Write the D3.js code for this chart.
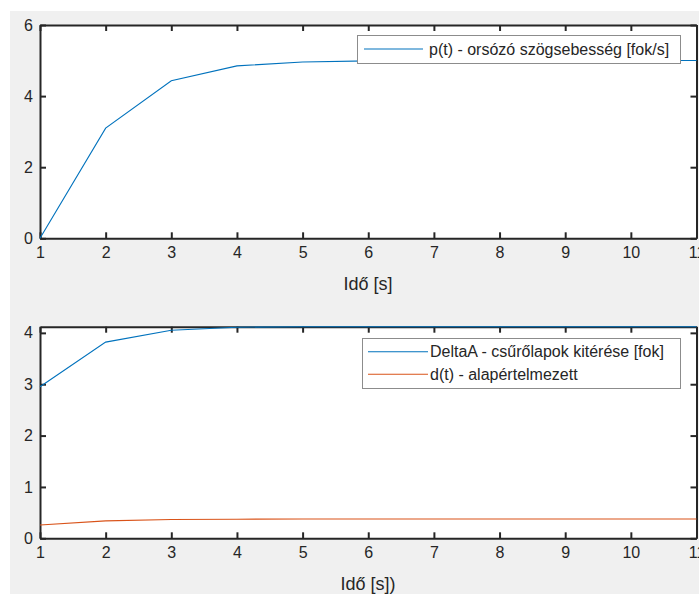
<!DOCTYPE html>
<html>
<head>
<meta charset="utf-8">
<script src="https://cdn.jsdelivr.net/npm/d3@7"></script>
<style>
  html, body { margin: 0; padding: 0; background: #ffffff; }
  svg { display: block; font-family: "Liberation Sans", Arial, sans-serif; }
</style>
</head>
<body>
<svg id="chart" width="699" height="594"></svg>
<script>
// ---- data ----
const time = [1, 2, 3, 4, 5, 6, 7, 8, 9, 10, 11];
const pSpeed = [0, 3.10, 4.43, 4.85, 4.96, 4.99, 5.0, 5.0, 5.0, 5.0, 5.0];
const deltaA = [2.95, 3.82, 4.05, 4.11, 4.12, 4.12, 4.12, 4.12, 4.12, 4.12, 4.12];
const dDefault = [0.26, 0.34, 0.365, 0.372, 0.375, 0.375, 0.375, 0.375, 0.375, 0.375, 0.375];
const xTicks = [1, 2, 3, 4, 5, 6, 7, 8, 9, 10, 11];
const yTicksTop = [0, 2, 4, 6];
const yTicksBottom = [0, 1, 2, 3, 4];
const yDomainTop = [0, 6];
const yDomainBottom = [0, 4.12];
const xLabelTop = "Idő [s]";
const xLabelBottom = "Idő [s])";
const legendTop = ["p(t) - orsózó szögsebesség [fok/s]"];
const legendBottom = ["DeltaA - csűrőlapok kitérése [fok]", "d(t) - alapértelmezett"];

const BLUE = "#0072BD", ORANGE = "#D95319", AX = "#262626";

const svg = d3.select("#chart");
svg.append("rect").attr("x", 10).attr("y", 11).attr("width", 689).attr("height", 583).attr("fill", "#f0f0f0");

function panel(cfg) {
  const x = d3.scaleLinear().domain([1, 11]).range([40, 696.5]);
  const y = d3.scaleLinear().domain(cfg.yDomain).range([cfg.bottom, cfg.top]);
  const g = svg.append("g");
  g.append("rect").attr("x", 40).attr("y", cfg.top).attr("width", 656.5).attr("height", cfg.bottom - cfg.top).attr("fill", "#fff");

  const styleAxis = sel => {
    sel.select(".domain").attr("stroke", AX).attr("stroke-width", 2);
    sel.selectAll(".tick line").attr("stroke", AX).attr("stroke-width", 2);
    sel.selectAll(".tick text").attr("fill", AX).attr("font-size", 16).attr("font-family", "Liberation Sans, Arial, sans-serif");
  };
  g.append("g").attr("transform", `translate(0,${cfg.top})`)
    .call(d3.axisTop(x).tickValues(xTicks).tickSizeInner(-6).tickSizeOuter(0).tickFormat("")).call(styleAxis);
  g.append("g").attr("transform", `translate(696.5,0)`)
    .call(d3.axisRight(y).tickValues(cfg.yTicks).tickSizeInner(-6).tickSizeOuter(0).tickFormat("")).call(styleAxis);
  g.append("g").attr("transform", `translate(0,${cfg.bottom})`)
    .call(d3.axisBottom(x).tickValues(xTicks).tickSizeInner(-6).tickSizeOuter(0).tickPadding(8.6).tickFormat(d3.format("d"))).call(styleAxis);
  g.append("g").attr("transform", `translate(40,0)`)
    .call(d3.axisLeft(y).tickValues(cfg.yTicks).tickSizeInner(-6).tickSizeOuter(0).tickPadding(7).tickFormat(d3.format("d"))).call(styleAxis);

  const line = d3.line().x((d, i) => x(time[i])).y(d => y(d));
  cfg.series.forEach(s => {
    g.append("path").datum(s.values).attr("d", line).attr("fill", "none").attr("stroke", s.color).attr("stroke-width", 1.1);
  });

  g.append("text").attr("x", 368).attr("y", cfg.bottom + 52).attr("text-anchor", "middle")
    .attr("font-size", 18).attr("fill", AX).text(cfg.xLabel);

  const lg = cfg.legend;
  g.append("rect").attr("x", lg.x0 + 0.5).attr("y", lg.y0 + 0.5).attr("width", lg.x1 - lg.x0).attr("height", lg.y1 - lg.y0)
    .attr("fill", "#fff").attr("stroke", "#8c8c8c").attr("stroke-width", 1);
  cfg.series.forEach((s, i) => {
    const yy = lg.rows[i];
    g.append("line").attr("x1", lg.lx0).attr("x2", lg.lx1).attr("y1", yy).attr("y2", yy).attr("stroke", s.color).attr("stroke-width", 1.1);
    g.append("text").attr("x", lg.tx).attr("y", yy).attr("dy", "0.35em").attr("font-size", 16).attr("fill", AX).text(s.label);
  });
}

panel({
  top: 25, bottom: 238.3, yDomain: yDomainTop, yTicks: yTicksTop, xLabel: xLabelTop,
  series: [{ values: pSpeed, color: BLUE, label: legendTop[0] }],
  legend: { x0: 357, x1: 680, y0: 35, y1: 63, rows: [49], lx0: 364, lx1: 423, tx: 429 }
});
panel({
  top: 326.7, bottom: 538.3, yDomain: yDomainBottom, yTicks: yTicksBottom, xLabel: xLabelBottom,
  series: [
    { values: deltaA, color: BLUE, label: legendBottom[0] },
    { values: dDefault, color: ORANGE, label: legendBottom[1] }
  ],
  legend: { x0: 362, x1: 680, y0: 338, y1: 388, rows: [351.7, 374.3], lx0: 368, lx1: 428, tx: 430 }
});
</script>
</body>
</html>
